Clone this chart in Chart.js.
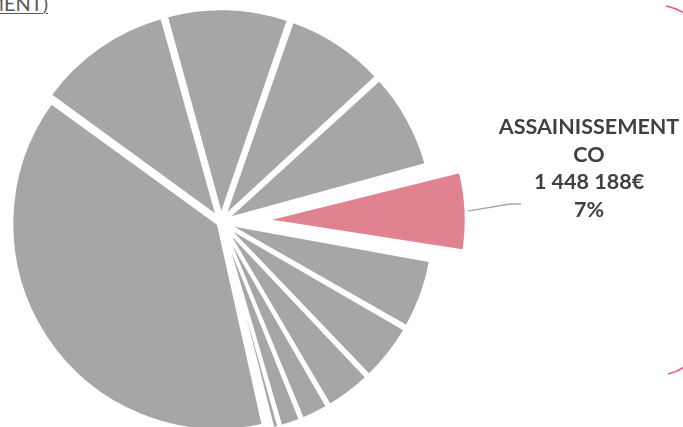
<!DOCTYPE html>
<html>
<head>
<meta charset="utf-8">
<script src="https://cdn.jsdelivr.net/npm/chart.js@4/dist/chart.umd.min.js"></script>
<style>
  html, body { margin: 0; padding: 0; background: #ffffff; overflow: hidden; }
  body { width: 683px; height: 427px; position: relative; }
  #wrap { position: absolute; left: 0; top: 0; width: 683px; height: 444px; }
  #topnote { position: absolute; left: -180px; width: 228px; top: -9px; text-align: right;
    font-family: Lato, "Open Sans", sans-serif; font-size: 20px; color: #595959;
    text-decoration: underline; text-decoration-thickness: 1px; text-underline-offset: 2px; white-space: nowrap; }
  #deco { position: absolute; left: 0; top: 0; width: 683px; height: 427px; pointer-events: none; }
</style>
</head>
<body>
<div id="topnote">(INVESTISSEMENT)</div>
<div id="wrap"><canvas id="c"></canvas></div>
<svg id="deco" width="683" height="427">
  <path d="M 666 6 Q 676 8 684 13" fill="none" stroke="#e0607a" stroke-width="1.6"/>
  <path d="M 668 374 Q 677 372 684 367" fill="none" stroke="#e0607a" stroke-width="1.6"/>
</svg>
<script>
// ---- data ----
const categories = [
  "Poste A", "Poste B", "Poste C", "ASSAINISSEMENT CO", "Poste D", "Poste E",
  "Poste F", "Poste G", "Poste H", "Poste I", "Poste J", "Poste K", "Poste L"
];
const amounts = [
  1986000, 1634000, 1572000, 1448188, 1138000, 952000,
  765000, 465000, 352000, 124000, 72000, 7965000, 2214000
];
const highlightIndex = 3;
const bigIndex = 11;
const highlightLabel = ["ASSAINISSEMENT", "CO", "1 448 188€", "7%"];

const GREY = "#a6a6a6";
const PINK = "#e08290";

const colors = amounts.map((_, i) => i === highlightIndex ? PINK : GREY);
// explosion distance in pixels per slice (style)
const explode = amounts.map((_, i) => {
  if (i === highlightIndex) return 45;
  if (i === bigIndex) return 3.5;
  return 7;
});
// radius trim in pixels per slice (style)
const trim = amounts.map((_, i) => i === highlightIndex ? 6 : 0);
// Chart.js translates arcs by offset/4
const offsets = explode.map(d => d * 4);

const keepRadius = {
  id: "keepRadius",
  afterDatasetUpdate(chart) {
    const meta = chart.getDatasetMeta(0);
    meta.data.forEach((arc, i) => {
      const fix = 1 - Math.sin(Math.min(Math.PI, arc.circumference || 0));
      arc.outerRadius = arc.outerRadius - explode[i] * fix - trim[i];
    });
  }
};

const labelPlugin = {
  id: "highlightLabel",
  afterDatasetsDraw(chart) {
    const ctx = chart.ctx;
    const arc = chart.getDatasetMeta(0).data[highlightIndex];
    const mid = (arc.startAngle + arc.endAngle) / 2;
    const r = arc.outerRadius + explode[highlightIndex] * (1 - Math.sin(arc.circumference)) + explode[highlightIndex] + 2;
    const sx = arc.x + Math.cos(mid) * r;
    const sy = arc.y + Math.sin(mid) * r;
    ctx.save();
    ctx.strokeStyle = "#a6a6a6";
    ctx.lineWidth = 1.3;
    ctx.beginPath();
    ctx.moveTo(sx, sy);
    ctx.lineTo(510, 204);
    ctx.lineTo(521, 204);
    ctx.stroke();
    ctx.fillStyle = "#404040";
    ctx.font = "bold 21.5px Lato, 'Open Sans', sans-serif";
    ctx.textAlign = "center";
    ctx.textBaseline = "alphabetic";
    const cx = 589;
    const base = 134;
    highlightLabel.forEach((t, k) => ctx.fillText(t, cx, base + k * 27.5));
    ctx.restore();
  }
};

new Chart(document.getElementById("c"), {
  type: "pie",
  data: {
    labels: categories,
    datasets: [{
      data: amounts,
      backgroundColor: colors,
      borderColor: "#ffffff",
      borderWidth: 2.5,
      offset: offsets,
      clip: false
    }]
  },
  options: {
    responsive: true,
    maintainAspectRatio: false,
    animation: false,
    radius: 206,
    rotation: -15.5,
    layout: { padding: { left: 0, top: 0, right: 241, bottom: 0 } },
    plugins: { legend: { display: false }, tooltip: { enabled: false }, title: { display: false } },
    events: []
  },
  plugins: [keepRadius, labelPlugin]
});
</script>
</body>
</html>
